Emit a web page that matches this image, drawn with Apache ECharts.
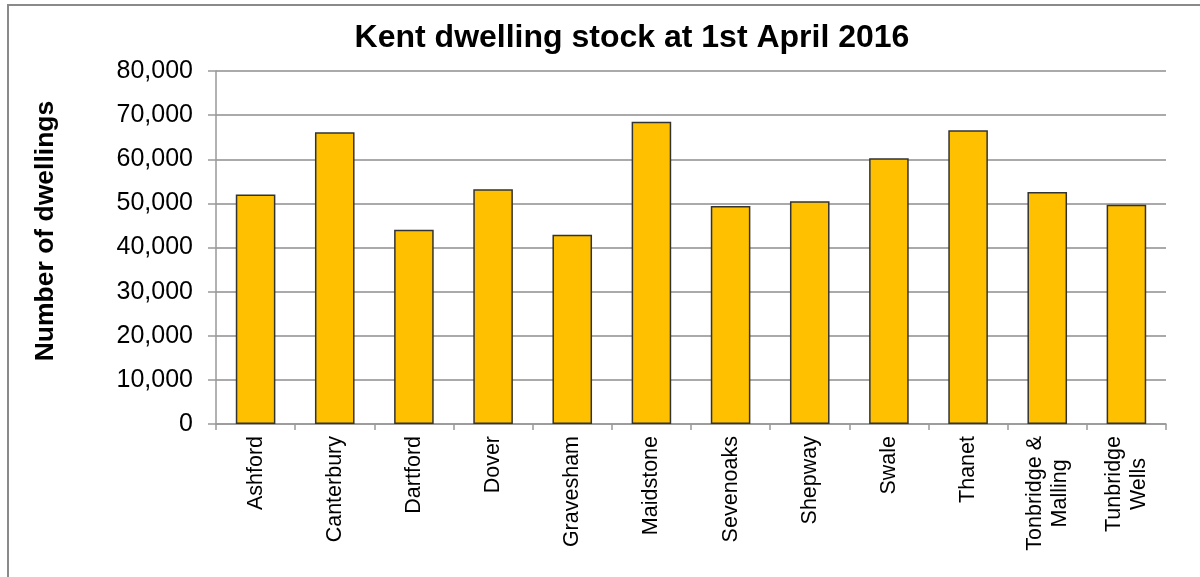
<!DOCTYPE html>
<html>
<head>
<meta charset="utf-8">
<script src="https://cdn.jsdelivr.net/npm/echarts@6/dist/echarts.min.js"></script>
<style>
html,body{margin:0;padding:0;background:#fff;}
#chart{width:1200px;height:577px;}
</style>
</head>
<body>
<div id="chart"></div>
<script>
const chartTitle = 'Kent dwelling stock at 1st April 2016';
const yAxisTitle = 'Number of dwellings';
const categories = ['Ashford','Canterbury','Dartford','Dover','Gravesham','Maidstone','Sevenoaks','Shepway','Swale','Thanet','Tonbridge &\nMalling','Tunbridge\nWells'];
const dwellings = [52000, 66100, 44000, 53200, 42900, 68500, 49400, 50500, 60200, 66600, 52600, 49700];
const yMin = 0, yMax = 80000, yStep = 10000;

const font = '"Liberation Sans", Arial, sans-serif';
const chart = echarts.init(document.getElementById('chart'), null, {renderer:'canvas'});
chart.setOption({
  animation: false,
  backgroundColor: '#fff',
  title: {
    text: chartTitle,
    left: 627, top: 17, textAlign: 'center',
    textStyle: {fontFamily: font, fontSize: 32, fontWeight: 'bold', color: '#000'}
  },
  graphic: [{
    type: 'polyline', silent: true,
    shape: {points: [[8, 577], [8, 5], [1200, 5]]},
    style: {stroke: '#8a8a8a', lineWidth: 2, fill: null}
  }],
  grid: {left: 216, right: 34, top: 71, bottom: 153, containLabel: false},
  xAxis: {
    type: 'category',
    data: categories,
    axisLine: {lineStyle: {color: '#999', width: 1.5}},
    axisTick: {show: true, length: 6, alignWithLabel: false, lineStyle: {color: '#999', width: 1.5}},
    axisLabel: {
      rotate: 90, margin: 12, interval: 0,
      fontFamily: font, fontSize: 21.5, color: '#000',
      formatter: v => v.split('\n').map(s => '{c|' + s + '}').join('\n'),
      rich: {c: {align: 'center', fontFamily: font, fontSize: 21.5, color: '#000', lineHeight: 25}}
    }
  },
  yAxis: {
    type: 'value', min: yMin, max: yMax, interval: yStep,
    name: yAxisTitle, nameLocation: 'middle', nameGap: 157, nameRotate: 90,
    nameTextStyle: {fontFamily: font, fontSize: 26.5, fontWeight: 'bold', color: '#000', padding: [0, 0, 0, 33]},
    axisLine: {show: true, lineStyle: {color: '#999', width: 1.5}},
    axisTick: {show: true, inside: false, length: 8, lineStyle: {color: '#999', width: 1.5}},
    axisLabel: {
      margin: 23, fontFamily: font, fontSize: 25, color: '#000',
      formatter: v => v.toLocaleString('en-GB')
    },
    splitLine: {show: true, lineStyle: {color: '#aaa', width: 2}}
  },
  series: [{
    type: 'bar',
    data: dwellings,
    barWidth: '50%',
    itemStyle: {color: '#FFC000', borderColor: '#333', borderWidth: 1.5}
  }]
});
</script>
</body>
</html>
